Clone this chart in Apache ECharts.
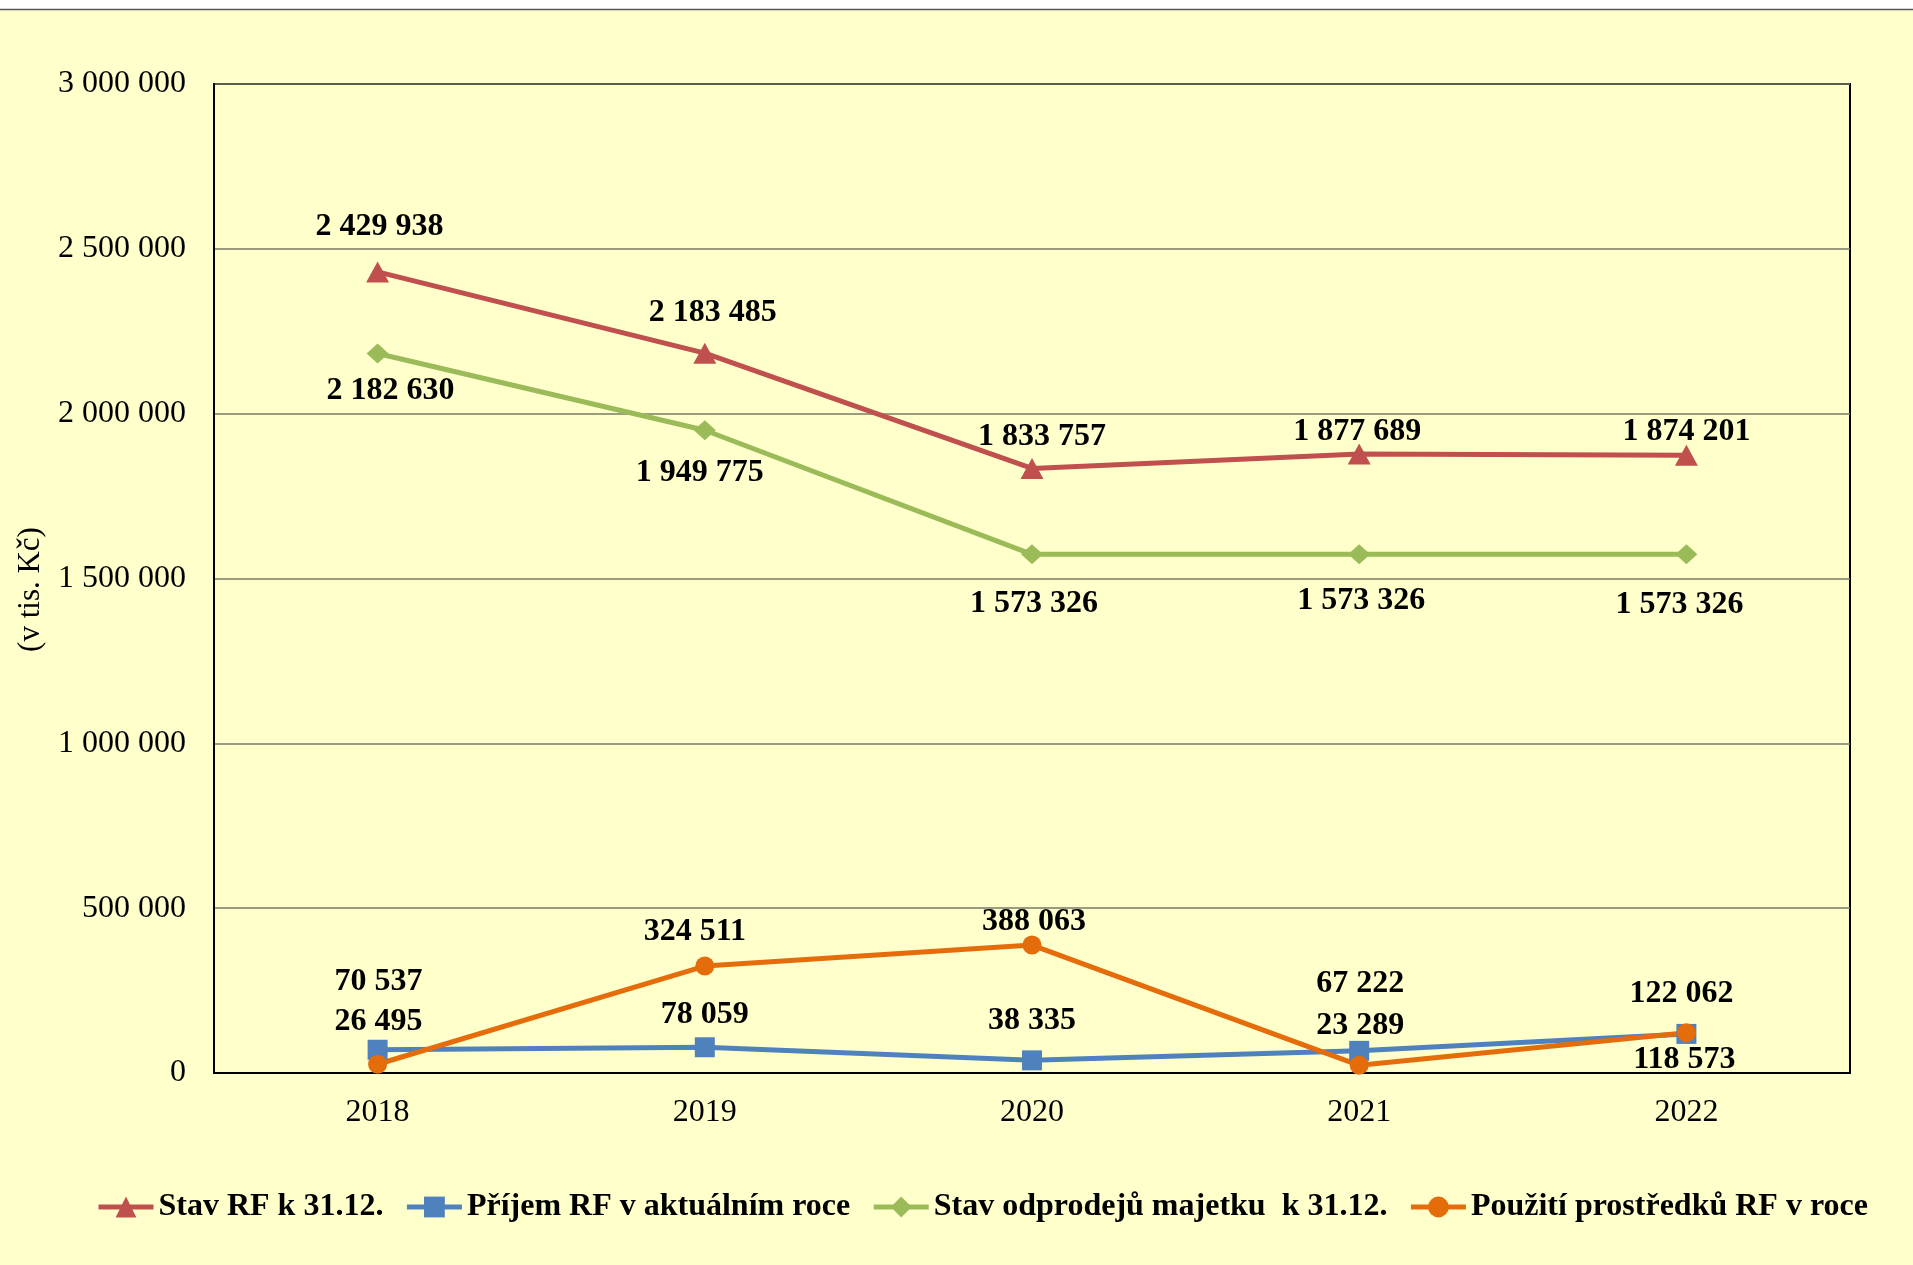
<!DOCTYPE html>
<html>
<head>
<meta charset="utf-8">
<script src="https://cdn.jsdelivr.net/npm/echarts@6/dist/echarts.min.js"></script>
<style>
html,body{margin:0;padding:0;background:#fff;}
#c{width:1913px;height:1265px;}
</style>
</head>
<body>
<div id="c"></div>
<script>
// ---- data ----
const years = ['2018', '2019', '2020', '2021', '2022'];
const stavRF = [2429938, 2183485, 1833757, 1877689, 1874201];
const prijemRF = [70537, 78059, 38335, 67222, 118573];
const stavOdprodeju = [2182630, 1949775, 1573326, 1573326, 1573326];
const pouzitiRF = [26495, 324511, 388063, 23289, 122062];
const seriesNames = ['Stav RF k 31.12.', 'Příjem RF v aktuálním roce', 'Stav odprodejů majetku  k 31.12.', 'Použití prostředků RF v roce'];

// ---- label layout (offsets from point, px) ----
const labelOffsets = {
  stavRF: [[2, -45], [8, -40], [10, -32], [-2, -22], [0, -23]],
  prijemRF: [[1, -68], [0, -33], [0, -40], [1, -67], [-2, 26]],
  stavOdprodeju: [[13, 37], [-5, 43], [2, 49], [2, 46], [-7, 50]],
  pouzitiRF: [[1, -43], [-10, -34], [2, -23], [1, -40], [-5, -39]]
};

const fmt = v => String(v).replace(/\B(?=(\d{3})+(?!\d))/g, ' ');
const FONT = 'Liberation Serif';

function build(values, offsets) {
  return values.map((v, i) => ({
    value: v,
    label: { offset: offsets[i] }
  }));
}

function mkSeries(name, values, offsets, color, symbol, symbolSize) {
  return {
    name: name,
    type: 'line',
    data: build(values, offsets),
    symbol: symbol,
    symbolSize: symbolSize,
    lineStyle: { color: color, width: 5 },
    itemStyle: { color: color },
    label: {
      show: true,
      position: 'inside',
      formatter: p => fmt(p.value),
      fontFamily: FONT,
      fontWeight: 'bold',
      fontSize: 32,
      color: '#000'
    },
    emphasis: { disabled: true },
    animation: false
  };
}

const chart = echarts.init(document.getElementById('c'), null, { renderer: 'canvas' });
chart.setOption({
  backgroundColor: '#FFFFCC',
  animation: false,
  graphic: [
    { type: 'rect', shape: { x: 0, y: 0, width: 1913, height: 9 }, style: { fill: '#ffffff' }, silent: true },
    { type: 'line', shape: { x1: 0, y1: 9.5, x2: 1913, y2: 9.5 }, style: { stroke: '#555', lineWidth: 1.5 }, silent: true }
  ],
  grid: {
    left: 214, top: 84, right: 63, bottom: 192,
    outerBoundsMode: 'none',
    containLabel: false,
    show: true, borderColor: '#000', borderWidth: 2, backgroundColor: 'transparent'
  },
  legend: {
    data: seriesNames,
    left: 96,
    top: 1191,
    padding: 0,
    itemWidth: 55,
    itemHeight: 26,
    itemGap: 21,
    lineStyle: { width: 5 },
    textStyle: { fontFamily: FONT, fontWeight: 'bold', fontSize: 32, color: '#000' }
  },
  xAxis: {
    type: 'category',
    data: years,
    boundaryGap: true,
    axisLine: { lineStyle: { color: '#000', width: 2 } },
    axisTick: { show: false },
    axisLabel: { fontFamily: FONT, fontSize: 32, color: '#000', margin: 24 }
  },
  yAxis: {
    type: 'value',
    min: 0, max: 3000000, interval: 500000,
    name: '(v tis. Kč)',
    nameLocation: 'middle',
    nameGap: 168,
    nameRotate: 90,
    nameTextStyle: { fontFamily: FONT, fontSize: 31, color: '#000', padding: [0, 22, 0, 0] },
    axisLine: { show: true, lineStyle: { color: '#000', width: 2 } },
    axisTick: { show: false },
    splitLine: { lineStyle: { color: '#7a7a66', width: 1.5 } },
    axisLabel: { fontFamily: FONT, fontSize: 32, color: '#000', margin: 28, formatter: v => fmt(v) }
  },
  series: [
    mkSeries(seriesNames[0], stavRF, labelOffsets.stavRF, '#C0504D', 'triangle', [23, 21]),
    mkSeries(seriesNames[1], prijemRF, labelOffsets.prijemRF, '#4F81BD', 'rect', 20),
    mkSeries(seriesNames[2], stavOdprodeju, labelOffsets.stavOdprodeju, '#9BBB59', 'diamond', [22, 20]),
    mkSeries(seriesNames[3], pouzitiRF, labelOffsets.pouzitiRF, '#E46C0A', 'circle', 19)
  ]
});
</script>
</body>
</html>
